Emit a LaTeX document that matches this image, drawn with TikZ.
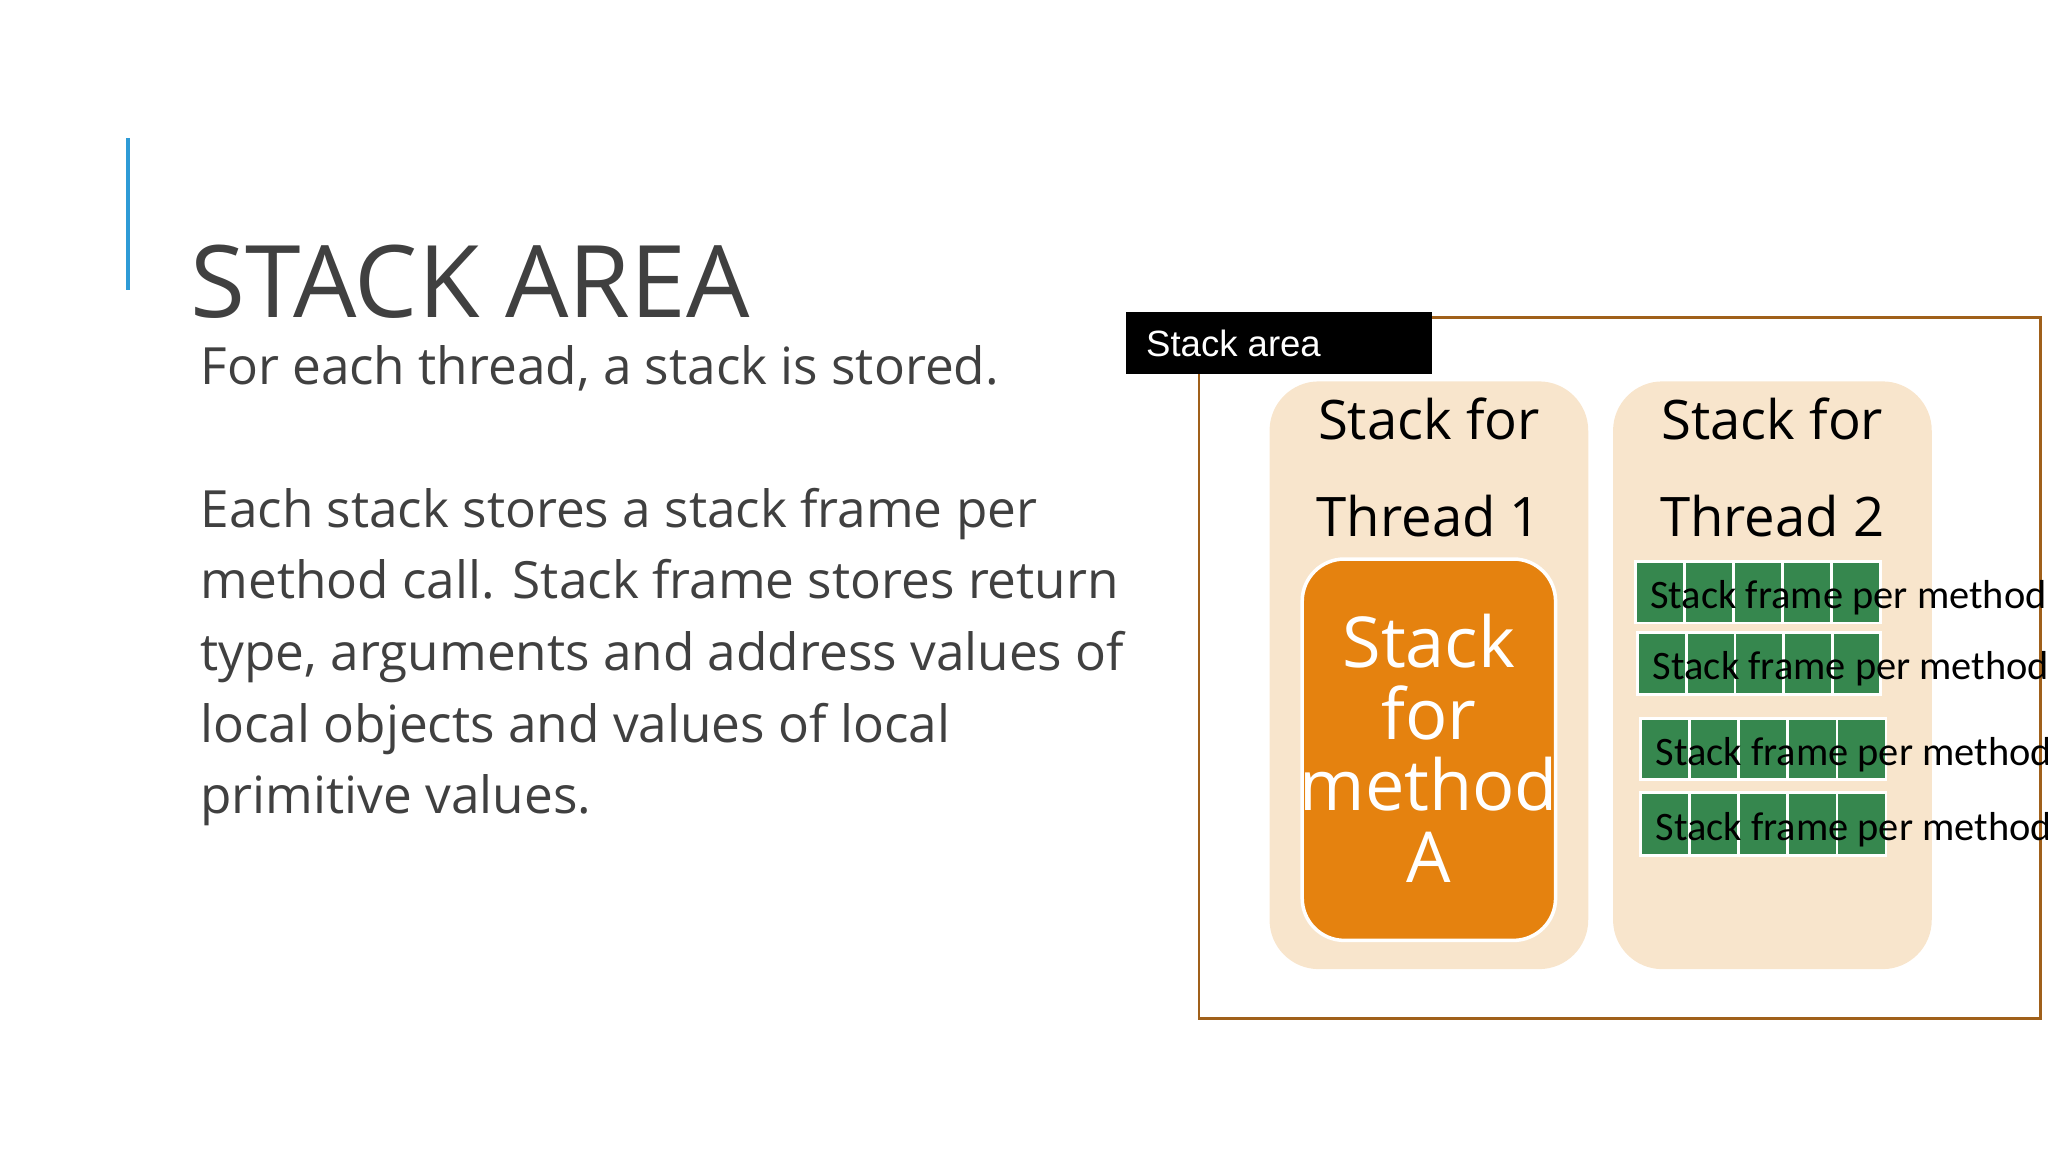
\documentclass[tikz,border=0pt]{standalone}
\usepackage{fontspec}
\setmainfont{Open Sans}
\newfontfamily\labelfont{Liberation Sans}
\newfontfamily\framefont{Carlito}
\usetikzlibrary{positioning}

\definecolor{titlegray}{HTML}{404040}
\definecolor{accentblue}{HTML}{2E9BD6}
\definecolor{areabrown}{HTML}{A0601A}
\definecolor{panelbeige}{HTML}{F8E5CC}
\definecolor{methodorange}{HTML}{E5820F}
\definecolor{framegreen}{HTML}{36874E}

\tikzset{
  panel/.style={fill=panelbeige,rounded corners=14pt},
  paneltext/.style={align=center,font=\fontsize{15.5}{21.5}\selectfont,text=black},
  bodytext/.style={anchor=north west,align=left,text=titlegray,font=\fontsize{14.6}{20.4}\selectfont},
  framebar/.style={fill=framegreen,draw=white,line width=0.8pt},
  frametext/.style={anchor=west,font=\framefont\fontsize{11.5}{13}\selectfont,text=black,inner sep=0pt}
}

\begin{document}
\begin{tikzpicture}[x=0.01306cm,y=-0.01306cm]
\useasboundingbox (0,0) rectangle (1568,882);

%accent and title
\draw[accentblue,line width=1.2pt] (98,106) -- (98,222);
\node[anchor=base west,inner sep=0pt,text=titlegray,font=\fontsize{28.5}{30}\selectfont] (title) at (145,243) {STACK AREA};

%body text
\node[bodytext,inner sep=0pt] (intro) at (153,264) {For each thread, a stack is stored.};
\node[bodytext,inner sep=0pt] (body) at (153,373) {Each stack stores a stack frame per\\method call. Stack frame stores return\\type, arguments and address values of\\local objects and values of local\\primitive values.};

%stack area box
\draw[areabrown,line width=0.8pt] (918,243) rectangle (1562,780);
\fill[black] (862,239) rectangle (1096,286);
\node[anchor=west,text=white,font=\labelfont\fontsize{10.4}{12}\selectfont] (arealabel) at (868,263) {Stack area};

%thread 1
\fill[panel] (972,292) rectangle (1216,742);
\node[paneltext] (t1) at (1094,358) {Stack for\\[6pt]Thread 1};
\draw[methodorange,fill=methodorange,draw=white,line width=1pt,rounded corners=12pt] (997,428) rectangle (1191,720);
\node[align=center,text=white,font=\fontsize{20}{20.4}\selectfont] (ma) at (1094,573) {Stack\\for\\method\\A};

%thread 2
\fill[panel] (1235,292) rectangle (1479,742);
\node[paneltext] (t2) at (1357,358) {Stack for\\[6pt]Thread 2};

%stack frames
\foreach \xa/\ya/\xb/\yb in {1252/430/1440/477, 1254/484/1440/532, 1256/550/1444/597, 1256/607/1444/655}{
  \foreach \i in {0,...,4}{
    \draw[framebar] ({\xa+\i*(\xb-\xa)/5},\ya) rectangle ({\xa+(\i+1)*(\xb-\xa)/5},\yb);
  }
  \node[frametext] at ({\xa+11},{(\ya+\yb)/2+4}) {Stack frame per method};
}

\end{tikzpicture}
\end{document}
